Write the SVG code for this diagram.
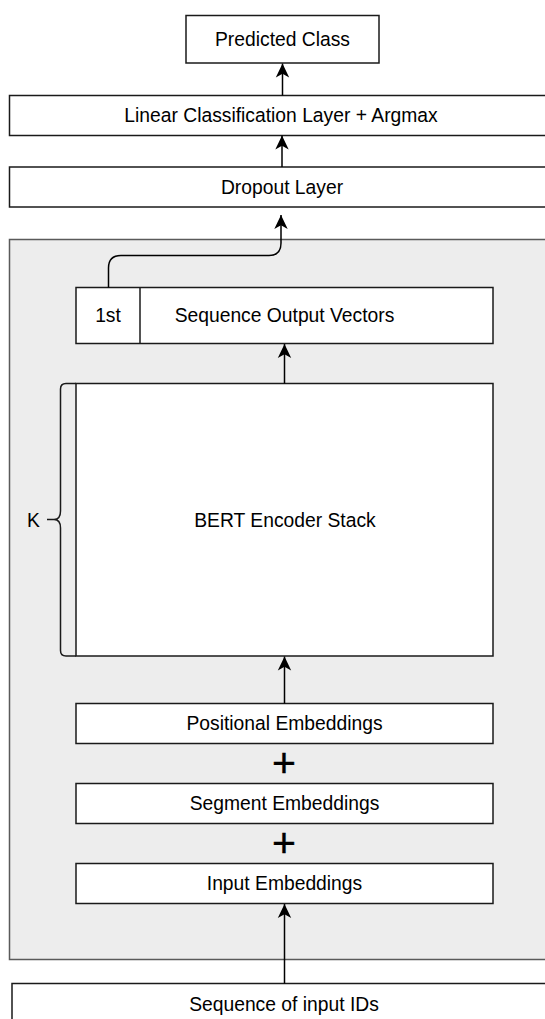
<svg xmlns="http://www.w3.org/2000/svg" width="545" height="1019" viewBox="0 0 545 1019">
  <style>
    .box { fill: #ffffff; stroke: #1a1a1a; stroke-width: 1.5; }
    .group { fill: #ededed; stroke: #5a5a5a; stroke-width: 1.5; }
    .label { font-family: "Liberation Sans", Arial, sans-serif; font-size: 19.3px; fill: #000000; text-anchor: middle; }
    .plus { font-family: "Liberation Sans", Arial, sans-serif; font-size: 41px; fill: #000000; text-anchor: middle; stroke: #000000; stroke-width: 0.4; }
    .edge { fill: none; stroke: #000000; stroke-width: 1.5; }
    .brace { fill: none; stroke: #1a1a1a; stroke-width: 1.5; }
  </style>
  <defs>
    <marker id="arrow" markerUnits="userSpaceOnUse" markerWidth="15" markerHeight="15" refX="14" refY="7.5" orient="auto">
      <path d="M14,7.5 L0,0.8 L3.8,7.5 L0,14.2 Z" fill="#000000"/>
    </marker>
  </defs>

  <rect width="545" height="1019" fill="#ffffff"/>

  <!-- BERT model container -->
  <g id="bert-model">
    <rect class="group" x="9.5" y="239.5" width="560" height="720"/>
  </g>

  <g id="predicted-class">
    <rect class="box" x="186" y="15.5" width="193" height="47.5"/>
    <text class="label" x="282.5" y="46">Predicted Class</text>
  </g>

  <g id="linear-layer">
    <rect class="box" x="9.5" y="95.5" width="560" height="40"/>
    <text class="label" x="281" y="122">Linear Classification Layer + Argmax</text>
  </g>

  <g id="dropout-layer">
    <rect class="box" x="9.5" y="167" width="560" height="40"/>
    <text class="label" x="282" y="194">Dropout Layer</text>
  </g>

  <g id="sequence-output">
    <rect class="box" x="76" y="287.5" width="417" height="56"/>
    <line class="box" x1="140" y1="287.5" x2="140" y2="343.5"/>
    <text class="label" x="108" y="322">1st</text>
    <text class="label" x="284.5" y="322">Sequence Output Vectors</text>
  </g>

  <g id="encoder-stack">
    <rect class="box" x="76" y="383.5" width="417" height="272.5"/>
    <text class="label" x="285" y="526.5">BERT Encoder Stack</text>
    <path class="brace" d="M76,383.5 L66,383.5 Q60.5,383.5 60.5,389 L60.5,511 Q60.5,519.5 54,519.5 L47,519.5 M54,519.5 Q60.5,519.5 60.5,528 L60.5,650.5 Q60.5,656 66,656 L76,656"/>
    <text class="label" x="33.5" y="526.5">K</text>
  </g>

  <g id="positional-embeddings">
    <rect class="box" x="76" y="703.5" width="417" height="40"/>
    <text class="label" x="284.5" y="730">Positional Embeddings</text>
  </g>

  <g id="plus-1">
    <text class="plus" x="284" y="777">+</text>
  </g>

  <g id="segment-embeddings">
    <rect class="box" x="76" y="783.5" width="417" height="40"/>
    <text class="label" x="284.5" y="810">Segment Embeddings</text>
  </g>

  <g id="plus-2">
    <text class="plus" x="284" y="857">+</text>
  </g>

  <g id="input-embeddings">
    <rect class="box" x="76" y="863.5" width="417" height="40"/>
    <text class="label" x="284.5" y="890">Input Embeddings</text>
  </g>

  <g id="input-ids">
    <rect class="box" x="12" y="983.5" width="560" height="45"/>
    <text class="label" x="284" y="1010.5">Sequence of input IDs</text>
  </g>

  <!-- connectors -->
  <g id="connectors">
    <path class="edge" marker-end="url(#arrow)" d="M282.5,95.5 L282.5,63.5"/>
    <path class="edge" marker-end="url(#arrow)" d="M282,167 L282,135.5"/>
    <path class="edge" marker-end="url(#arrow)" d="M108.5,287.5 L108.5,268 Q108.5,255.5 121,255.5 L269,255.5 Q281,255.5 281,243 L281,215"/>
    <path class="edge" marker-end="url(#arrow)" d="M284.5,383.5 L284.5,344"/>
    <path class="edge" marker-end="url(#arrow)" d="M284.5,703.5 L284.5,656.5"/>
    <path class="edge" marker-end="url(#arrow)" d="M284.5,983.5 L284.5,904"/>
  </g>
</svg>
